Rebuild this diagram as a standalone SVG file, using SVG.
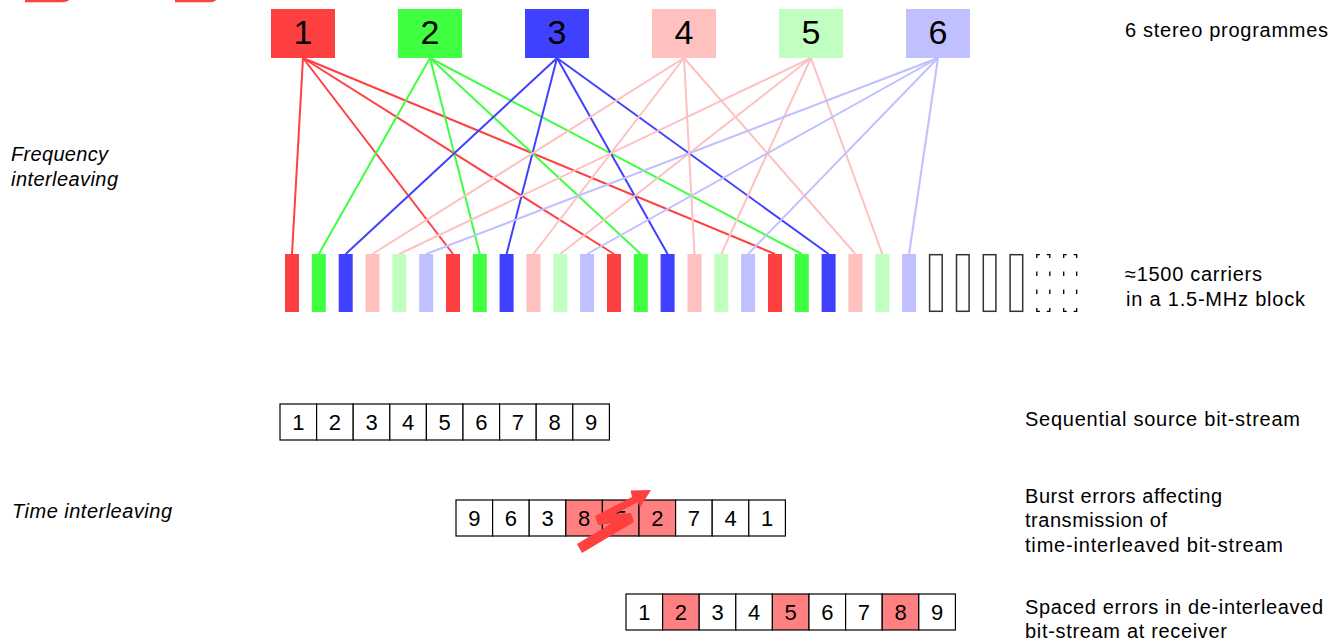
<svg xmlns="http://www.w3.org/2000/svg" width="1342" height="643" viewBox="0 0 1342 643">
<style>
  text { font-family: "Liberation Sans", Arial, sans-serif; fill: #000; }
  .lbl { font-size: 20px; }
  .ital { font-size: 20px; font-style: italic; }
  .prog { font-size: 34px; text-anchor: middle; }
  .cellt { font-size: 22px; text-anchor: middle; }
  .cell { fill: #fff; stroke: #000; stroke-width: 1.2; }
  .cell.err { fill: #FF8080; }
  .c1 { fill: #FF4040; } .c2 { fill: #40FF40; } .c3 { fill: #4040FF; }
  .c4 { fill: #FFC0C0; } .c5 { fill: #C0FFC0; } .c6 { fill: #C0C0FF; }
  .l1 { stroke: #FF4040; } .l2 { stroke: #40FF40; } .l3 { stroke: #4040FF; }
  .l4 { stroke: #FFC0C0; } .l5 { stroke: #FFC0C0; } .l6 { stroke: #C0C0FF; }
  #connectors line { stroke-width: 2; }
  .empty { fill: #fff; stroke: #333; stroke-width: 1.5; }
  .dash { fill: none; stroke: #000; stroke-width: 1.3; }
</style>

<!-- cut-off red shapes at top edge -->
<g id="topedge" fill="none" stroke="#FF4040" stroke-width="2.5">
  <path d="M25,1 H62 Q68,1 72,-4"/>
  <path d="M175,1 H210 Q215,1 219,-4"/>
</g>

<!-- connectors -->
<g id="connectors">
  <line class="l1" x1="303" y1="58" x2="292" y2="254"/>
  <line class="l1" x1="303" y1="58" x2="453" y2="254"/>
  <line class="l1" x1="303" y1="58" x2="614" y2="254"/>
  <line class="l1" x1="303" y1="58" x2="775" y2="254"/>
  <line class="l2" x1="430" y1="58" x2="318.8" y2="254"/>
  <line class="l2" x1="430" y1="58" x2="479.8" y2="254"/>
  <line class="l2" x1="430" y1="58" x2="640.8" y2="254"/>
  <line class="l2" x1="430" y1="58" x2="801.8" y2="254"/>
  <line class="l3" x1="557" y1="58" x2="345.7" y2="254"/>
  <line class="l3" x1="557" y1="58" x2="506.6" y2="254"/>
  <line class="l3" x1="557" y1="58" x2="667.6" y2="254"/>
  <line class="l3" x1="557" y1="58" x2="828.6" y2="254"/>
  <line class="l4" x1="684" y1="58" x2="372.5" y2="254"/>
  <line class="l4" x1="684" y1="58" x2="533.5" y2="254"/>
  <line class="l4" x1="684" y1="58" x2="694.5" y2="254"/>
  <line class="l4" x1="684" y1="58" x2="855.4" y2="254"/>
  <line class="l5" x1="811" y1="58" x2="399.3" y2="254"/>
  <line class="l5" x1="811" y1="58" x2="560.3" y2="254"/>
  <line class="l5" x1="811" y1="58" x2="721.3" y2="254"/>
  <line class="l5" x1="811" y1="58" x2="882.3" y2="254"/>
  <line class="l6" x1="938" y1="58" x2="426.2" y2="254"/>
  <line class="l6" x1="938" y1="58" x2="587.1" y2="254"/>
  <line class="l6" x1="938" y1="58" x2="748.1" y2="254"/>
  <line class="l6" x1="938" y1="58" x2="909.1" y2="254"/>
</g>

<!-- programme nodes -->
<g id="prog1"><rect class="c1" x="271" y="9" width="64" height="49"/><text class="prog" x="303" y="44">1</text></g>
<g id="prog2"><rect class="c2" x="398" y="9" width="64" height="49"/><text class="prog" x="430" y="44">2</text></g>
<g id="prog3"><rect class="c3" x="525" y="9" width="64" height="49"/><text class="prog" x="557" y="44">3</text></g>
<g id="prog4"><rect class="c4" x="652" y="9" width="64" height="49"/><text class="prog" x="684" y="44">4</text></g>
<g id="prog5"><rect class="c5" x="779" y="9" width="64" height="49"/><text class="prog" x="811" y="44">5</text></g>
<g id="prog6"><rect class="c6" x="906" y="9" width="64" height="49"/><text class="prog" x="938" y="44">6</text></g>

<!-- carriers -->
<g id="carriers">
  <rect class="c1" x="285" y="254" width="14" height="58"/>
  <rect class="c2" x="311.8" y="254" width="14" height="58"/>
  <rect class="c3" x="338.7" y="254" width="14" height="58"/>
  <rect class="c4" x="365.5" y="254" width="14" height="58"/>
  <rect class="c5" x="392.3" y="254" width="14" height="58"/>
  <rect class="c6" x="419.2" y="254" width="14" height="58"/>
  <rect class="c1" x="446" y="254" width="14" height="58"/>
  <rect class="c2" x="472.8" y="254" width="14" height="58"/>
  <rect class="c3" x="499.6" y="254" width="14" height="58"/>
  <rect class="c4" x="526.5" y="254" width="14" height="58"/>
  <rect class="c5" x="553.3" y="254" width="14" height="58"/>
  <rect class="c6" x="580.1" y="254" width="14" height="58"/>
  <rect class="c1" x="607" y="254" width="14" height="58"/>
  <rect class="c2" x="633.8" y="254" width="14" height="58"/>
  <rect class="c3" x="660.6" y="254" width="14" height="58"/>
  <rect class="c4" x="687.5" y="254" width="14" height="58"/>
  <rect class="c5" x="714.3" y="254" width="14" height="58"/>
  <rect class="c6" x="741.1" y="254" width="14" height="58"/>
  <rect class="c1" x="768" y="254" width="14" height="58"/>
  <rect class="c2" x="794.8" y="254" width="14" height="58"/>
  <rect class="c3" x="821.6" y="254" width="14" height="58"/>
  <rect class="c4" x="848.4" y="254" width="14" height="58"/>
  <rect class="c5" x="875.3" y="254" width="14" height="58"/>
  <rect class="c6" x="902.1" y="254" width="14" height="58"/>
  <rect class="empty" x="929.6" y="254.7" width="12.6" height="56.6"/>
  <rect class="empty" x="956.5" y="254.7" width="12.6" height="56.6"/>
  <rect class="empty" x="983.3" y="254.7" width="12.6" height="56.6"/>
  <rect class="empty" x="1010.1" y="254.7" width="12.6" height="56.6"/>
  <path class="dash" d="M1036.8,258 V254.7 H1039.8 M1046.8,254.7 H1049.8 V258 M1036.8,271.5 V276 M1049.8,271.5 V276 M1036.8,289.5 V294 M1049.8,289.5 V294 M1036.8,308 V311.3 H1039.8 M1046.8,311.3 H1049.8 V308"/>
  <path class="dash" d="M1063.7,258 V254.7 H1066.7 M1073.7,254.7 H1076.7 V258 M1063.7,271.5 V276 M1076.7,271.5 V276 M1063.7,289.5 V294 M1076.7,289.5 V294 M1063.7,308 V311.3 H1066.7 M1073.7,311.3 H1076.7 V308"/>
</g>

<!-- sequential source bit-stream -->
<g id="seq">
  <rect class="cell" x="280" y="404" width="36.6" height="36"/><text class="cellt" x="298.3" y="430">1</text>
  <rect class="cell" x="316.6" y="404" width="36.6" height="36"/><text class="cellt" x="334.9" y="430">2</text>
  <rect class="cell" x="353.2" y="404" width="36.6" height="36"/><text class="cellt" x="371.5" y="430">3</text>
  <rect class="cell" x="389.8" y="404" width="36.6" height="36"/><text class="cellt" x="408.1" y="430">4</text>
  <rect class="cell" x="426.4" y="404" width="36.6" height="36"/><text class="cellt" x="444.7" y="430">5</text>
  <rect class="cell" x="463" y="404" width="36.6" height="36"/><text class="cellt" x="481.3" y="430">6</text>
  <rect class="cell" x="499.6" y="404" width="36.6" height="36"/><text class="cellt" x="517.9" y="430">7</text>
  <rect class="cell" x="536.2" y="404" width="36.6" height="36"/><text class="cellt" x="554.5" y="430">8</text>
  <rect class="cell" x="572.8" y="404" width="36.6" height="36"/><text class="cellt" x="591.1" y="430">9</text>
</g>

<!-- time-interleaved bit-stream -->
<g id="interleaved">
  <rect class="cell" x="456" y="500" width="36.6" height="36"/><text class="cellt" x="474.3" y="526">9</text>
  <rect class="cell" x="492.6" y="500" width="36.6" height="36"/><text class="cellt" x="510.9" y="526">6</text>
  <rect class="cell" x="529.2" y="500" width="36.6" height="36"/><text class="cellt" x="547.5" y="526">3</text>
  <rect class="cell err" x="565.8" y="500" width="36.6" height="36"/><text class="cellt" x="584.1" y="526">8</text>
  <rect class="cell err" x="602.4" y="500" width="36.6" height="36"/><text class="cellt" x="620.7" y="526">5</text>
  <rect class="cell err" x="639" y="500" width="36.6" height="36"/><text class="cellt" x="657.3" y="526">2</text>
  <rect class="cell" x="675.6" y="500" width="36.6" height="36"/><text class="cellt" x="693.9" y="526">7</text>
  <rect class="cell" x="712.2" y="500" width="36.6" height="36"/><text class="cellt" x="730.5" y="526">4</text>
  <rect class="cell" x="748.8" y="500" width="36.6" height="36"/><text class="cellt" x="767.1" y="526">1</text>
</g>

<!-- burst error bolt -->
<g id="bolt">
  <polygon fill="#FF4040" points="577,544 611,523.5 598,525 595,516 632,497 630.5,490.5 651,490 640,507.5 638,502 615.6,513.8 631,513 634,522 582,553"/>
</g>

<!-- de-interleaved bit-stream -->
<g id="deinterleaved">
  <rect class="cell" x="626" y="594" width="36.6" height="36"/><text class="cellt" x="644.3" y="620">1</text>
  <rect class="cell err" x="662.6" y="594" width="36.6" height="36"/><text class="cellt" x="680.9" y="620">2</text>
  <rect class="cell" x="699.2" y="594" width="36.6" height="36"/><text class="cellt" x="717.5" y="620">3</text>
  <rect class="cell" x="735.8" y="594" width="36.6" height="36"/><text class="cellt" x="754.1" y="620">4</text>
  <rect class="cell err" x="772.4" y="594" width="36.6" height="36"/><text class="cellt" x="790.7" y="620">5</text>
  <rect class="cell" x="809" y="594" width="36.6" height="36"/><text class="cellt" x="827.3" y="620">6</text>
  <rect class="cell" x="845.6" y="594" width="36.6" height="36"/><text class="cellt" x="863.9" y="620">7</text>
  <rect class="cell err" x="882.2" y="594" width="36.6" height="36"/><text class="cellt" x="900.5" y="620">8</text>
  <rect class="cell" x="918.8" y="594" width="36.6" height="36"/><text class="cellt" x="937.1" y="620">9</text>
</g>

<!-- labels -->
<g id="labels">
  <text class="lbl" x="1125" y="37" textLength="203" lengthAdjust="spacing">6 stereo programmes</text>
  <text class="ital" x="11" y="161" textLength="97" lengthAdjust="spacing">Frequency</text>
  <text class="ital" x="11" y="186" textLength="107" lengthAdjust="spacing">interleaving</text>
  <text class="lbl" x="1125" y="281" textLength="137" lengthAdjust="spacing">≈1500 carriers</text>
  <text class="lbl" x="1126" y="306" textLength="179" lengthAdjust="spacing">in a 1.5-MHz block</text>
  <text class="lbl" x="1025" y="426" textLength="275" lengthAdjust="spacing">Sequential source bit-stream</text>
  <text class="ital" x="12" y="518" textLength="160" lengthAdjust="spacing">Time interleaving</text>
  <text class="lbl" x="1025" y="503" textLength="197" lengthAdjust="spacing">Burst errors affecting</text>
  <text class="lbl" x="1025" y="527" textLength="142" lengthAdjust="spacing">transmission of</text>
  <text class="lbl" x="1025" y="552" textLength="258" lengthAdjust="spacing">time-interleaved bit-stream</text>
  <text class="lbl" x="1025" y="614" textLength="298" lengthAdjust="spacing">Spaced errors in de-interleaved</text>
  <text class="lbl" x="1025" y="638" textLength="202" lengthAdjust="spacing">bit-stream at receiver</text>
</g>
</svg>
